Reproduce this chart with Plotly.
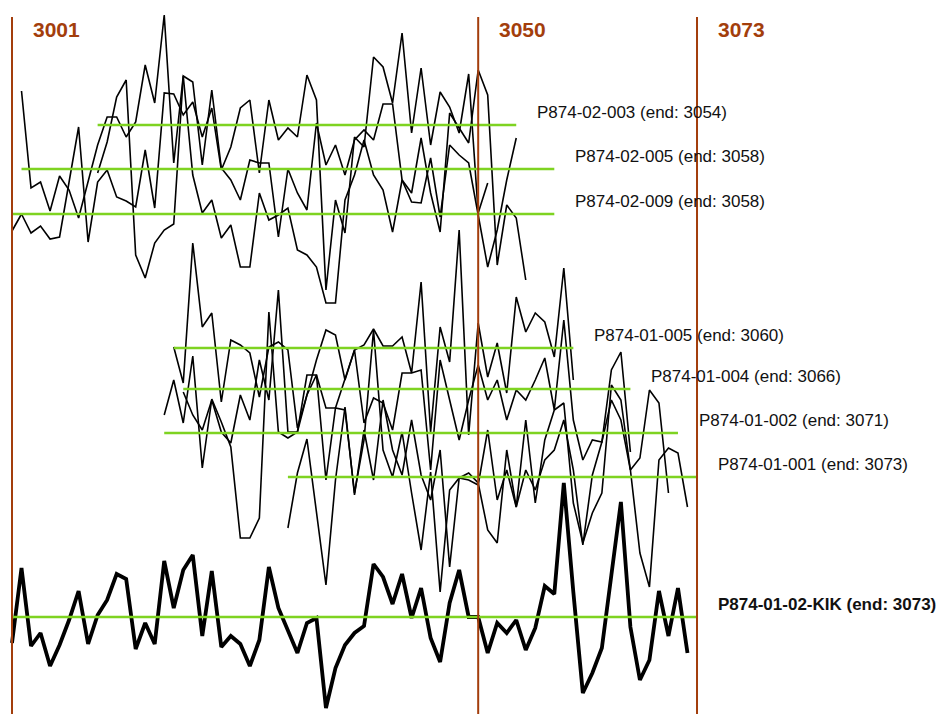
import plotly.graph_objects as go

# ---- data -------------------------------------------------------------
marker_years = [3001, 3050, 3073]
marker_labels = ["3001", "3050", "3073"]

series_names = ["P874-02-003", "P874-02-005", "P874-02-009",
                "P874-01-005", "P874-01-004", "P874-01-002",
                "P874-01-001", "P874-01-02-KIK"]
series_start = [3010, 3002, 3001, 3018, 3019, 3017, 3030, 3001]
series_end = [3054, 3058, 3058, 3060, 3066, 3071, 3073, 3073]

vals_02_003 = [-48, -17, 28, 45, -130, -153, -118, -105, -99, 49, 43,
               -40, 35, -43, -55, -75, -35, -38, -38, -112, -44,
               -68, -85, 2, -40, -20, -50, -15, -5, -15, 21,
               21, -55, -77, -78, -33, -92, -20, -30, -38, -90,
               -142, -105, -55, -13]
vals_02_005 = [78, -19, -13, -42, -7, -21, -49, -11, 24,
               52, 52, 32, 47, 104, 66, 154, 6, 93, -6,
               -44, -31, -69, -56, -98, -98, -24, -51, -46, -39,
               -81, -86, -98, -134, -134, -31, -6, 29, -6, -21,
               -63, -11, -24, 31, -24, -63, 56, 41, 26, 99,
               74, -96, -36, -49, -111]
vals_02_009 = [-17, 0, -19, -12, -25, -23, 32, 87, -28, 32,
               44, 17, 13, 7, 64, 6, 121, 120, 99, 112,
               77, 106, 44, 67, 106, 114, 41, 114, 74, 86,
               77, 139, 114, -76, 14, -19, 77, 67, 157, 147,
               111, 181, 81, 146, 69, 122, 107, 81, 140, 1,
               31]
vals_01_005 = [1, -35, 105,
               21, 35, -54, 8, 3, -5, -49, 1, 6, -2,
               -80, -47, -12, 18, 13, -32, -2, 3, 19, 2,
               2, 11, -25, 66, -84, 21, -14, 118, -87, 25,
               -29, 5, -45, 51, 16, 35, 26, -9, 80, -32]
vals_01_004 = [-3, -26,
               -41, -11, -43, -54, -6, -31, 29, -11, 99, -43,
               -43, -6, 14, -19, -19, 9, 39, -34, -9, -14,
               -41, 16, 16, 19, -81, 29, -11, -51, -11, 24,
               -11, 9, -31, -1, -11, 9, 31, -21, 69, -31,
               -71, -51, -53, 19, 37, -63]
vals_01_002 = [18, 53, 10, 77,
               -35, 34, 11, -14, -105, -105, -85, 121, 1, -5,
               1, 58, 58, -47, 25, 23, -60, -7, 103, -17,
               -44, 1, -60, -117, -39, -159, -57, -45, -40, -50,
               -97, -110, -17, -74, 13, -70, -7, 23, 30, -70,
               -110, -80, -60, 48, 33, -37, -25, 43, 30, -60]
vals_01_001 = [-51,
               4, 38, -33, -108, -3, 70, -18, 47, -3, 77,
               27, 2, 57, 2, -23, 27, -90, -1, -3, -8,
               47, -23, 7, -30, 7, -13, 17, 27, 57, 7,
               -68, 2, 35, 77, 57, 7, -76, -110, 17, 29,
               24, -30]
vals_kik = [-26, 49, -29, -16, -49, -28, -3, 26, -27, 2,
            17, 43, 38, -32, -6, -27, 56, 9, 47, 62,
            -19, 46, -30, -19, -27, -49, -23, 50, 9, -14,
            -36, -6, -1, -91, -51, -28, -16, -9, 53, 40,
            13, 43, -1, 29, -21, -45, 14, 47, 0, 0,
            -36, -6, -16, -3, -33, -11, 31, 23, 134, 25,
            -76, -56, -31, 42, 115, -10, -63, -43, 26, -19,
            29, -36]

series_values = [vals_02_003, vals_02_005, vals_02_009, vals_01_005,
                 vals_01_004, vals_01_002, vals_01_001, vals_kik]

# ---- layout / style ---------------------------------------------------
baselines = [125, 169, 214, 348, 389, 433, 477, 617]   # vertical offsets (px from top)
BROWN = "#A33E0C"
GREEN = "#7ED321"
W, H = 938, 714
PX_PER_YEAR = 9.514
X0 = 3001 - 12 / PX_PER_YEAR
X1 = X0 + W / PX_PER_YEAR

fig = go.Figure()

for name, start, vals, base in zip(series_names, series_start, series_values, baselines):
    xs = [start + i for i in range(len(vals))]
    ys = [-base + v for v in vals]
    thick = name.endswith("KIK")
    fig.add_trace(go.Scatter(x=xs, y=ys, mode="lines",
                             line=dict(color="black", width=3.8 if thick else 1.6),
                             hoverinfo="skip", showlegend=False))

# green mean lines on top
for name, start, end, base in zip(series_names, series_start, series_end, baselines):
    fig.add_trace(go.Scatter(x=[start, end], y=[-base, -base], mode="lines",
                             line=dict(color=GREEN, width=2.4),
                             hoverinfo="skip", showlegend=False))

shapes = []
for yr in marker_years:
    shapes.append(dict(type="line", xref="x", yref="y", x0=yr, x1=yr, y0=-H, y1=-17,
                       line=dict(color=BROWN, width=2)))

annotations = []
for yr, lab in zip(marker_years, marker_labels):
    annotations.append(dict(x=yr, y=-29, xref="x", yref="y", text="<b>" + lab + "</b>",
                            showarrow=False, xanchor="left", yanchor="middle", xshift=19,
                            font=dict(family="Liberation Sans, Arial", size=21, color=BROWN)))

for name, end, base in zip(series_names, series_end, baselines):
    txt = f"{name} (end: {end})"
    if name.endswith("KIK"):
        txt = "<b>" + txt + "</b>"
    annotations.append(dict(x=end, y=-base, xref="x", yref="y", text=txt,
                            showarrow=False, xanchor="left", yanchor="middle",
                            xshift=19, yshift=13,
                            font=dict(family="Liberation Sans, Arial", size=17, color="#111111")))

fig.update_layout(
    width=W, height=H,
    margin=dict(l=0, r=0, t=0, b=0),
    paper_bgcolor="white", plot_bgcolor="white",
    xaxis=dict(range=[X0, X1], visible=False, fixedrange=True),
    yaxis=dict(range=[-H, 0], visible=False, fixedrange=True),
    shapes=shapes, annotations=annotations,
    showlegend=False,
)

fig.write_html("out.html", config={"displayModeBar": False},
               post_script="document.body.style.margin='0';document.body.style.overflow='hidden';")
